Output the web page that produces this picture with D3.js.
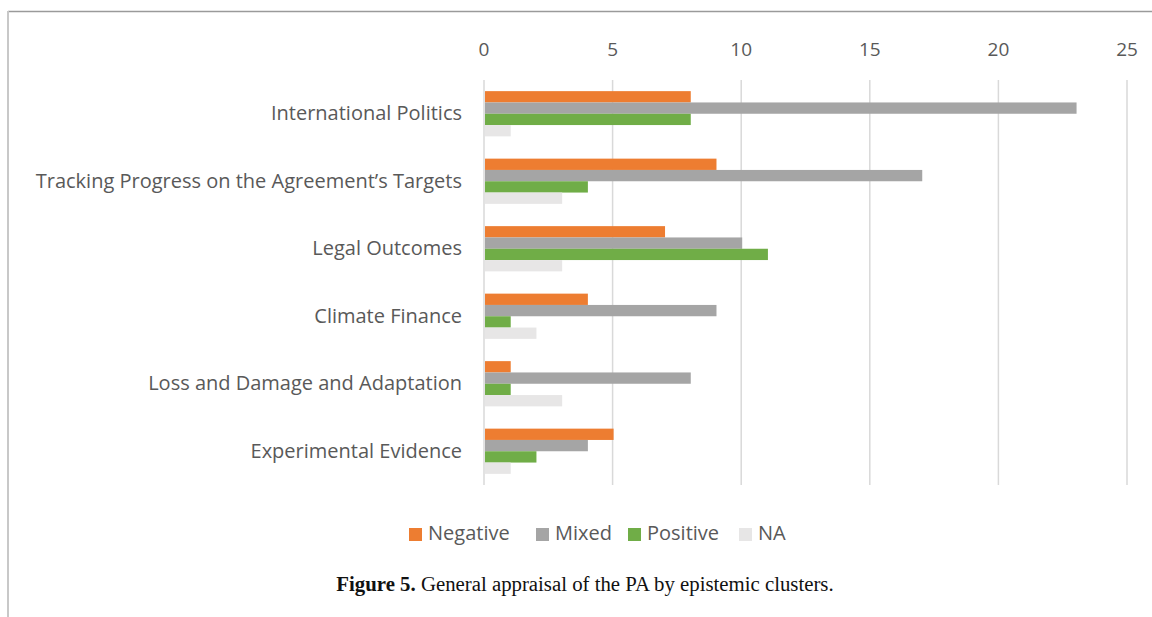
<!DOCTYPE html>
<html>
<head>
<meta charset="utf-8">
<script src="https://cdn.jsdelivr.net/npm/d3@7"></script>
<style>
  body { margin: 0; background: #fff; }
  svg { display: block; }
</style>
</head>
<body>
<div id="chart"></div>
<script>
// DATA
const categories = [
  "International Politics",
  "Tracking Progress on the Agreement\u2019s Targets",
  "Legal Outcomes",
  "Climate Finance",
  "Loss and Damage and Adaptation",
  "Experimental Evidence"
];
const seriesNames = ["Negative", "Mixed", "Positive", "NA"];
const negative = [8, 9, 7, 4, 1, 5];
const mixed = [23, 17, 10, 9, 8, 4];
const positive = [8, 4, 11, 1, 1, 2];
const na = [1, 3, 3, 2, 3, 1];
const ticks = [0, 5, 10, 15, 20, 25];

// CONSTANTS
const width = 1152;
const height = 617;
const colors = ["#ED7D31", "#A5A5A5", "#70AD47", "#E7E6E6"];
const textColor = "#595959";
const plot = { left: 484, right: 1127, top: 80, bottom: 485 };

const svg = d3.select("#chart")
  .append("svg")
  .attr("width", width)
  .attr("height", height);

// frame lines
svg.append("line")
  .attr("x1", 8).attr("x2", width)
  .attr("y1", 11.5).attr("y2", 11.5)
  .attr("stroke", "#9a9a9a").attr("stroke-width", 1.5);
svg.append("line")
  .attr("x1", 8).attr("x2", 8)
  .attr("y1", 11).attr("y2", height)
  .attr("stroke", "#c8c8c8").attr("stroke-width", 2);

const x = d3.scaleLinear().domain([0, 25]).range([plot.left, plot.right]);
const y = d3.scaleBand().domain(categories).range([plot.top, plot.bottom]).paddingInner(0.33).paddingOuter(0.165);
const ySub = d3.scaleBand().domain(seriesNames).range([0, y.bandwidth()]);

// gridlines
svg.append("g")
  .selectAll("line")
  .data(ticks)
  .join("line")
  .attr("x1", (d) => x(d)).attr("x2", (d) => x(d))
  .attr("y1", plot.top).attr("y2", plot.bottom)
  .attr("stroke", "#D9D9D9")
  .attr("stroke-width", 1.5);

// top axis labels
svg.append("g")
  .selectAll("text")
  .data(ticks)
  .join("text")
  .attr("x", (d) => x(d))
  .attr("y", 51)
  .attr("text-anchor", "middle")
  .attr("dominant-baseline", "middle")
  .style("font-family", "Open Sans")
  .style("font-size", "19px")
  .style("fill", textColor)
  .text((d) => d);

// category labels
svg.append("g")
  .selectAll("text")
  .data(categories)
  .join("text")
  .attr("x", 462)
  .attr("y", (d) => y(d) + y.bandwidth() / 2 + 1)
  .attr("text-anchor", "end")
  .attr("dominant-baseline", "middle")
  .style("font-family", "Open Sans")
  .style("font-size", "20px")
  .style("fill", textColor)
  .text((d) => d);

// bars
const series = [negative, mixed, positive, na];
series.forEach((vals, si) => {
  svg.append("g")
    .selectAll("rect")
    .data(vals)
    .join("rect")
    .attr("x", x(0) + 1)
    .attr("y", (d, i) => y(categories[i]) + ySub(seriesNames[si]))
    .attr("width", (d) => x(d) - x(0))
    .attr("height", ySub.bandwidth())
    .attr("fill", colors[si]);
});

// legend
const legendX = [409, 536, 628, 739];
const legend = svg.append("g");
seriesNames.forEach((name, i) => {
  legend.append("rect")
    .attr("x", legendX[i])
    .attr("y", 528)
    .attr("width", 13)
    .attr("height", 13)
    .attr("fill", colors[i]);
  legend.append("text")
    .attr("x", legendX[i] + 19)
    .attr("y", 535)
    .attr("dominant-baseline", "middle")
    .style("font-family", "Open Sans")
    .style("font-size", "20px")
    .style("fill", textColor)
    .text(name);
});

// caption
const caption = svg.append("text")
  .attr("x", 585)
  .attr("y", 591)
  .attr("text-anchor", "middle")
  .style("font-family", "Liberation Serif")
  .style("font-size", "20.8px")
  .style("fill", "#111");
caption.append("tspan").style("font-weight", "bold").text("Figure 5.");
caption.append("tspan").text(" General appraisal of the PA by epistemic clusters.");
</script>
</body>
</html>
